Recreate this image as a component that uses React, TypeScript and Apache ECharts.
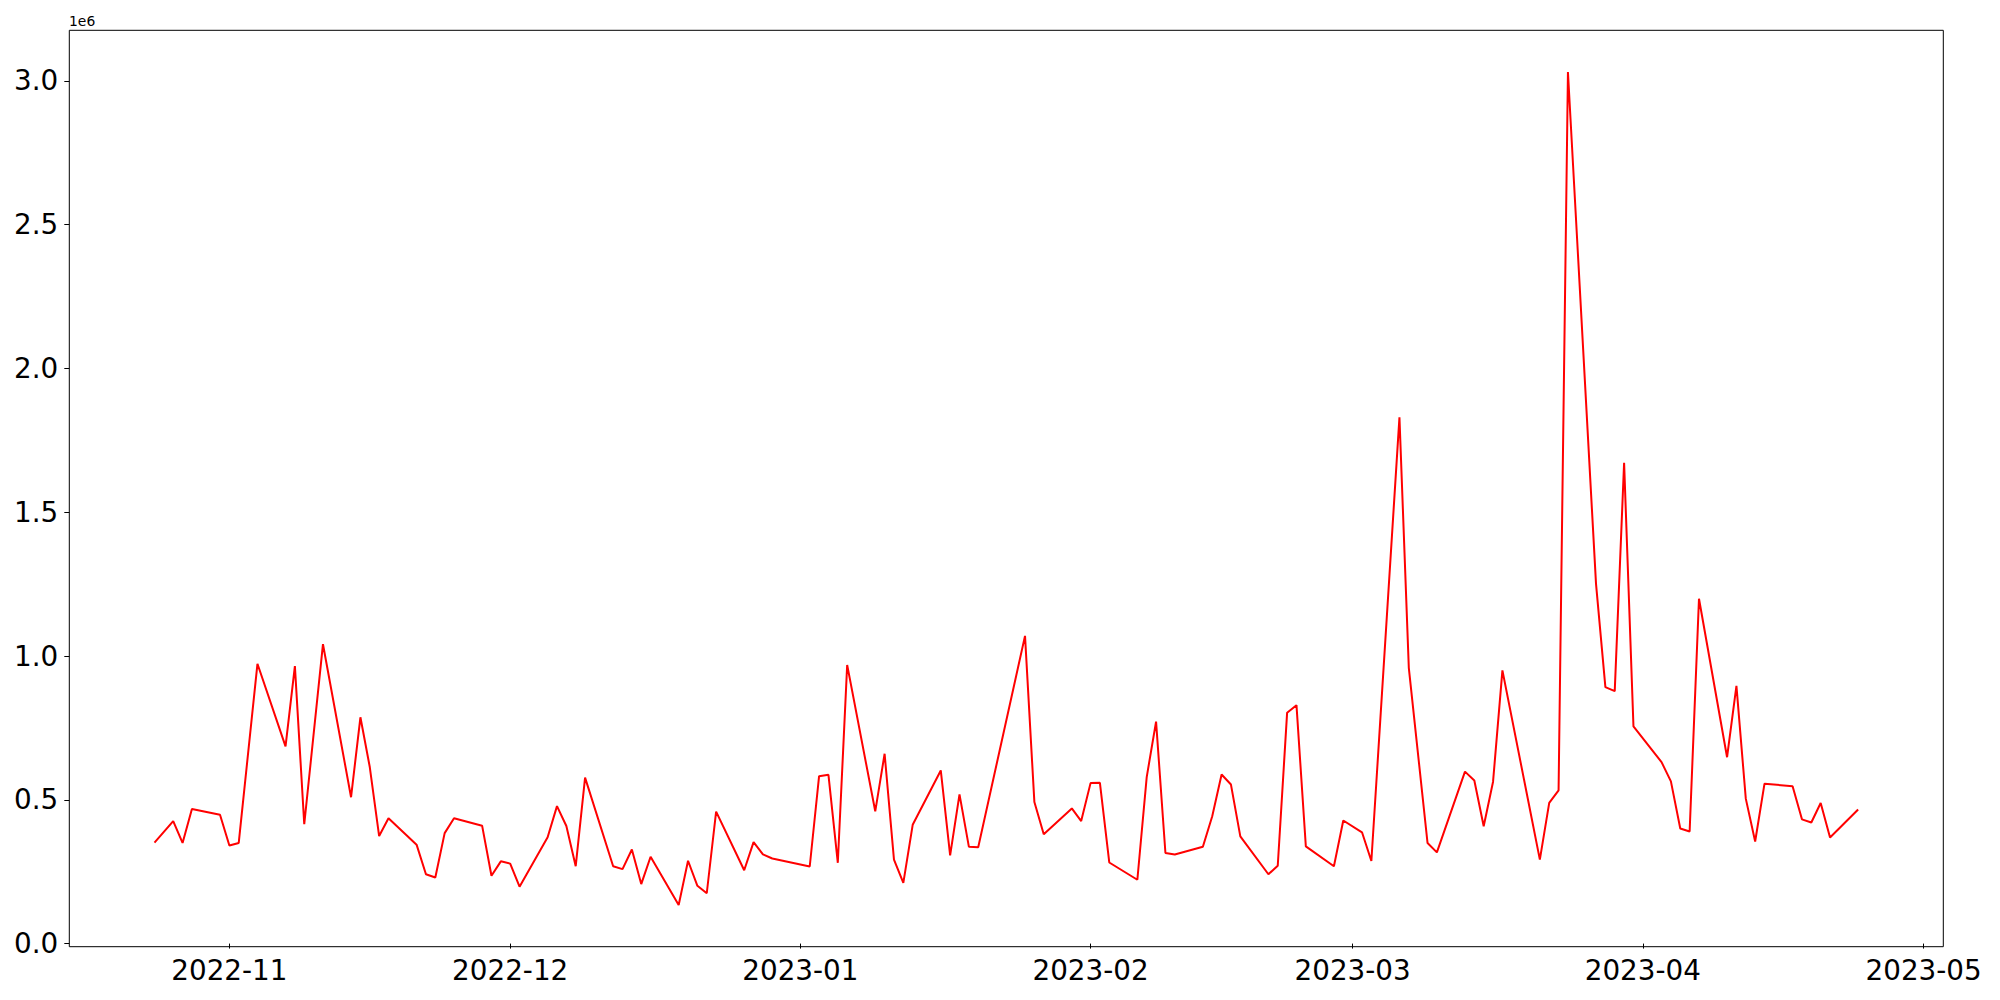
import React, { useEffect, useRef } from "react";
import * as echarts from "echarts";

const dates: string[] = [
  "2022-10-24", "2022-10-26", "2022-10-27", "2022-10-28", "2022-10-31",
  "2022-11-01", "2022-11-02", "2022-11-04", "2022-11-07", "2022-11-08",
  "2022-11-09", "2022-11-11", "2022-11-14", "2022-11-15", "2022-11-16",
  "2022-11-17", "2022-11-18", "2022-11-21", "2022-11-22", "2022-11-23",
  "2022-11-24", "2022-11-25", "2022-11-28", "2022-11-29", "2022-11-30",
  "2022-12-01", "2022-12-02", "2022-12-05", "2022-12-06", "2022-12-07",
  "2022-12-08", "2022-12-09", "2022-12-12", "2022-12-13", "2022-12-14",
  "2022-12-15", "2022-12-16", "2022-12-19", "2022-12-20", "2022-12-21",
  "2022-12-22", "2022-12-23", "2022-12-26", "2022-12-27", "2022-12-28",
  "2022-12-29", "2023-01-02", "2023-01-03", "2023-01-04", "2023-01-05",
  "2023-01-06", "2023-01-09", "2023-01-10", "2023-01-11", "2023-01-12",
  "2023-01-13", "2023-01-16", "2023-01-17", "2023-01-18", "2023-01-19",
  "2023-01-20", "2023-01-25", "2023-01-26", "2023-01-27", "2023-01-30",
  "2023-01-31", "2023-02-01", "2023-02-02", "2023-02-03", "2023-02-06",
  "2023-02-07", "2023-02-08", "2023-02-09", "2023-02-10", "2023-02-13",
  "2023-02-14", "2023-02-15", "2023-02-16", "2023-02-17", "2023-02-20",
  "2023-02-21", "2023-02-22", "2023-02-23", "2023-02-24", "2023-02-27",
  "2023-02-28", "2023-03-02", "2023-03-03", "2023-03-06", "2023-03-07",
  "2023-03-09", "2023-03-10", "2023-03-13", "2023-03-14", "2023-03-15",
  "2023-03-16", "2023-03-17", "2023-03-21", "2023-03-22", "2023-03-23",
  "2023-03-24", "2023-03-27", "2023-03-28", "2023-03-29", "2023-03-30",
  "2023-03-31", "2023-04-03", "2023-04-04", "2023-04-05", "2023-04-06",
  "2023-04-07", "2023-04-10", "2023-04-11", "2023-04-12", "2023-04-13",
  "2023-04-14", "2023-04-17", "2023-04-18", "2023-04-19", "2023-04-20",
  "2023-04-21", "2023-04-24",
];

const values: number[] = [
  351000, 426000, 350000, 468000, 448000,
  341000, 350000, 973000, 686000, 965000,
  415000, 1041000, 509000, 787000, 614000,
  374000, 436000, 344000, 241000, 230000,
  384000, 436000, 410000, 236000, 286000,
  278000, 198000, 370000, 478000, 409000,
  269000, 577000, 269000, 259000, 327000,
  207000, 302000, 134000, 288000, 201000,
  175000, 459000, 255000, 353000, 310000,
  296000, 268000, 582000, 587000, 281000,
  969000, 460000, 660000, 292000, 211000,
  413000, 602000, 307000, 519000, 337000,
  335000, 1070000, 492000, 380000, 470000,
  426000, 558000, 559000, 282000, 222000,
  579000, 772000, 315000, 310000, 337000,
  443000, 588000, 553000, 373000, 241000,
  271000, 803000, 829000, 338000, 269000,
  428000, 387000, 287000, 1830000, 959000,
  350000, 317000, 598000, 567000, 408000,
  563000, 950000, 292000, 489000, 533000,
  3031000, 1251000, 892000, 878000, 1672000,
  755000, 631000, 564000, 400000, 390000,
  1199000, 648000, 896000, 504000, 355000,
  556000, 547000, 432000, 421000, 489000,
  369000, 466000,
];

const xTickLabels: string[] = [
  "2022-11", "2022-12", "2023-01", "2023-02", "2023-03", "2023-04", "2023-05",
];

const yTickValues: number[] = [0, 500000, 1000000, 1500000, 2000000, 2500000, 3000000];

const parseDate = (s: string): number => {
  const p = s.split("-").map(Number);
  return Date.UTC(p[0], p[1] - 1, p[2] || 1);
};

const pad2 = (n: number) => (n < 10 ? "0" + n : "" + n);

export default function App() {
  const ref = useRef<HTMLDivElement | null>(null);

  useEffect(() => {
    if (!ref.current) return;
    const chart = echarts.init(ref.current, undefined, { renderer: "svg" });

    const xs = dates.map(parseDate);
    const xMinData = Math.min(...xs);
    const xMaxData = Math.max(...xs);
    const xSpan = xMaxData - xMinData;
    const yMinData = Math.min(...values);
    const yMaxData = Math.max(...values);
    const ySpan = yMaxData - yMinData;
    const xTickValues = xTickLabels.map(parseDate);

    const font = "DejaVu Sans";

    chart.setOption({
      animation: false,
      backgroundColor: "#ffffff",
      grid: {
        left: 69.3,
        right: 56.7,
        top: 30.3,
        bottom: 53.3,
        show: true,
        borderColor: "#000000",
        borderWidth: 1,
        backgroundColor: "transparent",
        containLabel: false,
        outerBoundsMode: "none",
      },
      graphic: [
        {
          type: "text",
          left: 69,
          top: 14,
          style: {
            text: "1e6",
            fontSize: 13.9,
            fontFamily: font,
            fill: "#000000",
          },
        },
      ],
      xAxis: {
        type: "value",
        min: xMinData - xSpan * 0.05,
        max: xMaxData + xSpan * 0.05,
        axisLine: { show: false },
        splitLine: { show: false },
        minorTick: { show: false },
        axisTick: {
          show: true,
          inside: false,
          length: 5,
          lineStyle: { color: "#000000", width: 1 },
          customValues: xTickValues,
        },
        axisLabel: {
          show: true,
          margin: 10,
          fontSize: 27.8,
          fontFamily: font,
          color: "#000000",
          customValues: xTickValues,
          formatter: (v: number) => {
            const d = new Date(v);
            return d.getUTCFullYear() + "-" + pad2(d.getUTCMonth() + 1);
          },
        },
      },
      yAxis: {
        type: "value",
        min: yMinData - ySpan * 0.05,
        max: yMaxData + ySpan * 0.05,
        axisLine: { show: false },
        splitLine: { show: false },
        axisTick: {
          show: true,
          inside: false,
          length: 5,
          lineStyle: { color: "#000000", width: 1 },
          customValues: yTickValues,
        },
        axisLabel: {
          show: true,
          margin: 11,
          fontSize: 27.8,
          fontFamily: font,
          color: "#000000",
          customValues: yTickValues,
          formatter: (v: number) => (v / 1e6).toFixed(1),
        },
      },
      series: [
        {
          type: "line",
          data: xs.map((x, i) => [x, values[i]]),
          showSymbol: false,
          symbol: "none",
          lineStyle: { color: "#ff0000", width: 2 },
          itemStyle: { color: "#ff0000" },
        },
      ],
    });

    return () => {
      chart.dispose();
    };
  }, []);

  return (
    <div
      ref={ref}
      style={{ position: "fixed", left: 0, top: 0, width: "2000px", height: "1000px", background: "#fff" }}
    />
  );
}
